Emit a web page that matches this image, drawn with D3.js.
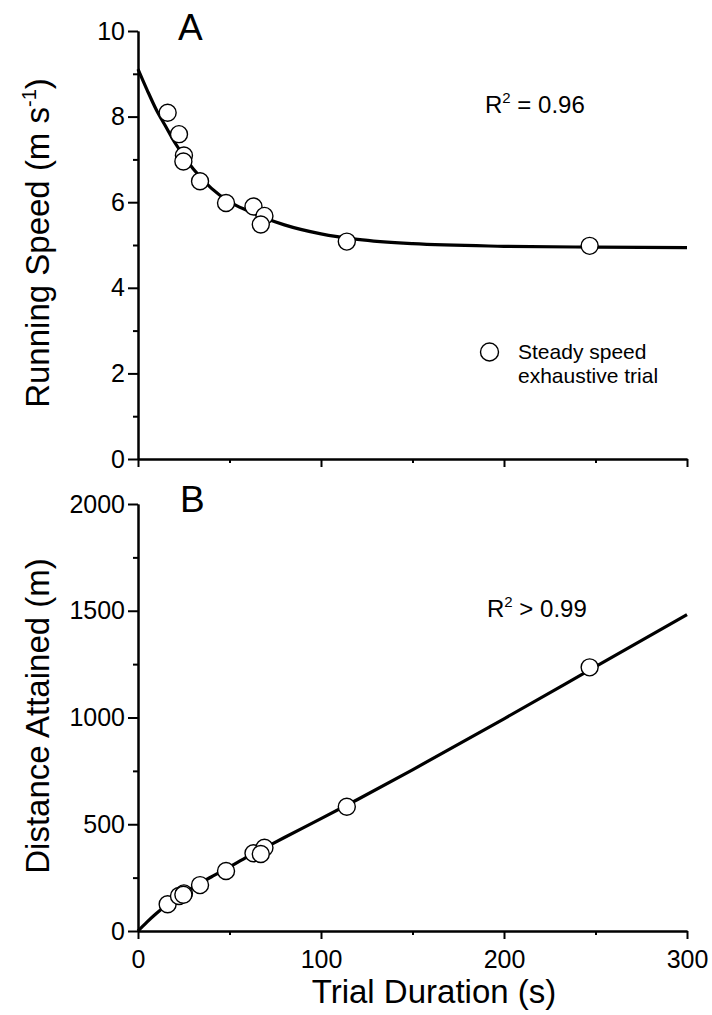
<!DOCTYPE html>
<html>
<head>
<meta charset="utf-8">
<script src="https://cdn.jsdelivr.net/npm/d3@7"></script>
<style>
  html, body { margin: 0; padding: 0; background: #fff; }
  svg { display: block; font-family: "Liberation Sans", Arial, Helvetica, sans-serif; }
</style>
</head>
<body>
<svg id="chart" width="712" height="1015"></svg>
<script>
// ---- Data ----
const trialDuration = [16.2, 22.4, 25.1, 24.8, 33.9, 48.1, 63.1, 69.1, 67.1, 114.1, 246.8];
const runningSpeed  = [8.09, 7.59, 7.09, 6.95, 6.49, 5.98, 5.90, 5.68, 5.48, 5.08, 4.98];
const distanceAttained = [125, 164, 176, 170, 215, 281, 364, 390, 361, 582, 1235];

// fitted curves
const fitTime     = [0, 5, 10, 15, 20, 30, 40, 50, 60, 70, 80, 100, 120, 150, 200, 250, 300];
const fitSpeed    = [9.11, 8.62, 8.16, 7.78, 7.40, 6.79, 6.33, 6.01, 5.80, 5.62, 5.47, 5.26, 5.13, 5.03, 4.97, 4.95, 4.94];
const fitDistance = [0, 43, 82, 117, 148, 204, 253, 300, 348, 393, 438, 526, 616, 755, 994, 1238, 1482];

const xTicks = [0, 100, 200, 300];
const xMinorTicks = [50, 150, 250];
const yATicks = [0, 2, 4, 6, 8, 10];
const yAMinorTicks = [1, 3, 5, 7, 9];
const yBTicks = [0, 500, 1000, 1500, 2000];
const yBMinorTicks = [250, 750, 1250, 1750];

// ---- Layout ----
const svg = d3.select("#chart");
const x  = d3.scaleLinear().domain([0, 300]).range([138, 687]);
const yA = d3.scaleLinear().domain([0, 10]).range([459, 31]);
const yB = d3.scaleLinear().domain([0, 2000]).range([931, 504]);

const tickFont = 25;
const fmt = d3.format("d");

function styleAxis(g) {
  g.selectAll("path.domain").attr("stroke", "#000").attr("stroke-width", 2);
  g.selectAll(".tick line").attr("stroke", "#000").attr("stroke-width", 2);
  g.selectAll(".tick text").attr("fill", "#000").style("font-size", tickFont + "px")
    .style("font-family", '"Liberation Sans", Arial, sans-serif');
}

function drawPanel(yScale, yTicks, yMinor, xAxisY, showXLabels) {
  // minor y ticks
  svg.append("g").attr("transform", `translate(${x(0)},0)`)
    .call(d3.axisLeft(yScale).tickValues(yMinor).tickSize(5).tickSizeOuter(0).tickFormat(""))
    .call(styleAxis);
  // major y ticks
  svg.append("g").attr("transform", `translate(${x(0)},0)`)
    .call(d3.axisLeft(yScale).tickValues(yTicks).tickSize(10).tickSizeOuter(0).tickPadding(3).tickFormat(fmt))
    .call(styleAxis);
  // minor x ticks
  svg.append("g").attr("transform", `translate(0,${xAxisY})`)
    .call(d3.axisBottom(x).tickValues(xMinorTicks).tickSize(4).tickSizeOuter(0).tickFormat(""))
    .call(styleAxis);
  // major x ticks
  const ax = d3.axisBottom(x).tickValues(xTicks).tickSize(8).tickSizeOuter(0).tickPadding(11)
    .tickFormat(showXLabels ? fmt : "");
  svg.append("g").attr("transform", `translate(0,${xAxisY})`)
    .call(ax).call(styleAxis);
}

drawPanel(yA, yATicks, yAMinorTicks, yA(0), false);
drawPanel(yB, yBTicks, yBMinorTicks, yB(0), true);

// ---- Fit lines ----
const lineA = d3.line().x((d, i) => x(fitTime[i])).y(d => yA(d)).curve(d3.curveMonotoneX);
const lineB = d3.line().x((d, i) => x(fitTime[i])).y(d => yB(d)).curve(d3.curveMonotoneX);

svg.append("path").attr("d", lineA(fitSpeed))
  .attr("fill", "none").attr("stroke", "#000").attr("stroke-width", 3.2);
svg.append("path").attr("d", lineB(fitDistance))
  .attr("fill", "none").attr("stroke", "#000").attr("stroke-width", 3.2);

// ---- Points ----
const r = 8.5;
svg.append("g").selectAll("circle").data(runningSpeed).join("circle")
  .attr("cx", (d, i) => x(trialDuration[i])).attr("cy", d => yA(d)).attr("r", r)
  .attr("fill", "#fff").attr("stroke", "#000").attr("stroke-width", 1.4);
svg.append("g").selectAll("circle").data(distanceAttained).join("circle")
  .attr("cx", (d, i) => x(trialDuration[i])).attr("cy", d => yB(d)).attr("r", r)
  .attr("fill", "#fff").attr("stroke", "#000").attr("stroke-width", 1.4);

// ---- Panel letters ----
svg.append("text").attr("x", 178).attr("y", 40).style("font-size", "37px").text("A");
svg.append("text").attr("x", 180).attr("y", 512).style("font-size", "37px").text("B");

// ---- R² annotations ----
function r2(xp, yp, rest) {
  const t = svg.append("text").attr("x", xp).attr("y", yp).style("font-size", "24px");
  t.append("tspan").text("R");
  t.append("tspan").attr("dy", -10).style("font-size", "15px").text("2");
  t.append("tspan").attr("dy", 10).text(rest);
}
r2(485, 113, " = 0.96");
r2(487, 617, " > 0.99");

// ---- Legend ----
svg.append("circle").attr("cx", 489.5).attr("cy", 352).attr("r", 9)
  .attr("fill", "#fff").attr("stroke", "#000").attr("stroke-width", 1.4);
svg.append("text").attr("x", 518).attr("y", 359).style("font-size", "21px").text("Steady speed");
svg.append("text").attr("x", 518).attr("y", 383).style("font-size", "21px").text("exhaustive trial");

// ---- Axis titles ----
svg.append("text").attr("x", 434).attr("y", 1003).attr("text-anchor", "middle")
  .style("font-size", "33px").text("Trial Duration (s)");

const tA = svg.append("text").attr("transform", "translate(49,243) rotate(-90)")
  .attr("text-anchor", "middle").style("font-size", "33px");
tA.append("tspan").text("Running Speed (m s");
tA.append("tspan").attr("dy", -13).style("font-size", "20px").text("-1");
tA.append("tspan").attr("dy", 13).text(")");

svg.append("text").attr("transform", "translate(49,716) rotate(-90)")
  .attr("text-anchor", "middle").style("font-size", "33px").text("Distance Attained (m)");
</script>
</body>
</html>
